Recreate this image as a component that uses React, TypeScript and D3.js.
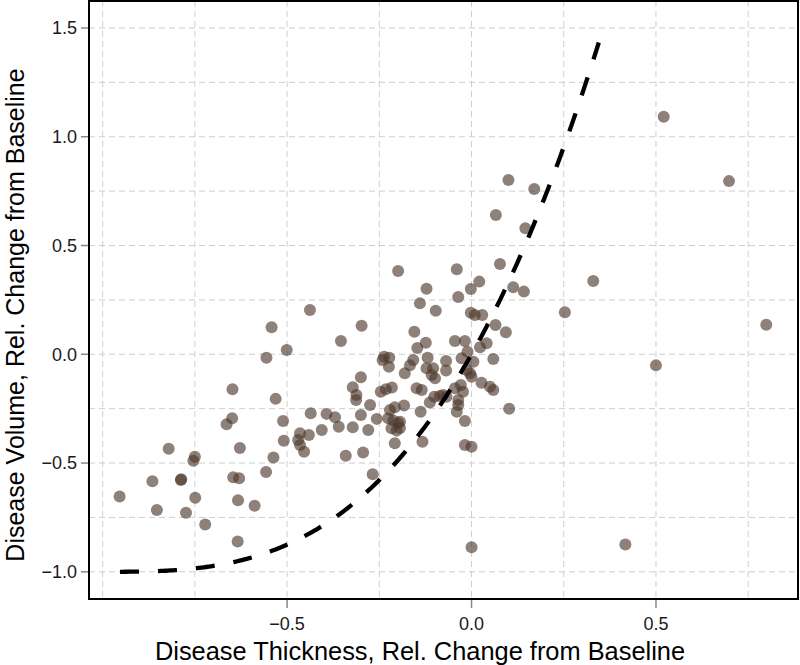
import React from "react";
import * as d3 from "d3";

// Scatter data: disease thickness vs disease volume (relative change from baseline)
const thickness: number[] = [
  -0.954, -0.865, -0.853, -0.821, -0.787, -0.788, -0.774, -0.75, -0.754, -0.749,
  -0.722, -0.664, -0.649, -0.648, -0.646, -0.63, -0.628, -0.633, -0.634, -0.588,
  -0.557, -0.556, -0.542, -0.537, -0.531, -0.511, -0.509, -0.501,
  -0.465, -0.47, -0.465, -0.454, -0.441, -0.438, -0.436, -0.406, -0.393, -0.37,
  -0.36, -0.354, -0.341, -0.322, -0.322, -0.312, -0.313, -0.3, -0.298, -0.3,
  -0.294, -0.28, -0.275, -0.257, -0.268, -0.246, -0.232, -0.216, -0.237, -0.223,
  -0.241, -0.224, -0.221, -0.208, -0.226, -0.212, -0.199, -0.217, -0.203, -0.208,
  -0.199,
  -0.194, -0.194, -0.183, -0.181, -0.167, -0.158, -0.155, -0.147, -0.14, -0.138,
  -0.133, -0.124, -0.122, -0.122, -0.119, -0.149, -0.135, -0.113, -0.104, -0.108,
  -0.099, -0.101, -0.097, -0.086, -0.077, -0.069, -0.069, -0.068, -0.045, -0.045,
  -0.04, -0.04, -0.036, -0.036, -0.036, -0.029, -0.027, -0.023, -0.018, -0.018,
  -0.018, -0.013, -0.011, -0.004, 0.0, 0.0, 0.0, -0.002, -0.002, 0.005, 0.009,
  0.021, 0.023, 0.029, 0.027, 0.041, 0.05, 0.059, 0.059, 0.065, 0.066, 0.077,
  0.093, 0.1, 0.102, 0.113, 0.142, 0.146, 0.17, 0.253, 0.33, 0.417, 0.5, 0.521,
  0.698, 0.799,
];
const volume: number[] = [
  -0.654, -0.584, -0.716, -0.434, -0.574, -0.578, -0.729, -0.471, -0.49, -0.66,
  -0.783, -0.322, -0.294, -0.161, -0.565, -0.57, -0.431, -0.671, -0.861, -0.696,
  -0.541, -0.016, 0.124, -0.475, -0.205, -0.307, -0.397, 0.02,
  -0.363, -0.394, -0.417, -0.448, -0.371, 0.204, -0.271, -0.348, -0.274, -0.29,
  -0.333, 0.061, -0.467, -0.335, -0.152, -0.187, -0.21, -0.106, 0.131, -0.279,
  -0.452, -0.348, -0.233, -0.297, -0.551, -0.172, -0.161, -0.153, -0.011, -0.016,
  -0.026, -0.057, -0.256, -0.244, -0.294, -0.305, -0.317, -0.34, -0.351, -0.409,
  0.383,
  -0.31, -0.339, -0.236, -0.087, -0.051, -0.026, 0.104, 0.029, 0.234, -0.264,
  -0.402, 0.053, 0.301, -0.064, -0.016, -0.156, -0.164, -0.222, -0.064, -0.095,
  -0.11, -0.195, 0.2, -0.192, -0.187, -0.031, -0.075, -0.195, 0.061, -0.156,
  0.391, -0.264, 0.263, -0.21, -0.233, -0.141, -0.018, -0.172, 0.061, -0.307,
  -0.417, -0.072, 0.012, -0.087, -0.103, -0.425, -0.887, 0.3, 0.191, -0.034, 0.181,
  0.334, 0.032, 0.181, -0.131, 0.051, -0.149, -0.164, -0.022, 0.135, 0.64, 0.415,
  0.101, 0.801, -0.25, 0.308, 0.288, 0.579, 0.76, 0.193, 0.337, -0.875, -0.051, 1.092,
  0.796, 0.136,
];

// Model curve: volume = (1 + thickness)^3 - 1, drawn over this thickness range
const curveRange: [number, number] = [-0.953, 0.345];

const xTicks: number[] = [-0.5, 0.0, 0.5];
const yTicks: number[] = [-1.0, -0.5, 0.0, 0.5, 1.0, 1.5];
const xGrid: number[] = [-1.0, -0.75, -0.5, -0.25, 0.0, 0.25, 0.5, 0.75];
const yGrid: number[] = [-1.0, -0.75, -0.5, -0.25, 0.0, 0.25, 0.5, 0.75, 1.0, 1.25, 1.5];

const xDomain: [number, number] = [-1.037, 0.885];
const yDomain: [number, number] = [-1.125, 1.624];

const xTitle = "Disease Thickness, Rel. Change from Baseline";
const yTitle = "Disease Volume, Rel. Change from Baseline";

export default function App() {
  const W = 800;
  const H = 665;
  const left = 89, right = 798, top = 1, bottom = 599;
  const x = d3.scaleLinear().domain(xDomain).range([left, right]);
  const y = d3.scaleLinear().domain(yDomain).range([bottom, top]);

  const pts = thickness.map((t, i) => [t, volume[i]] as [number, number]);
  const curvePts: [number, number][] = d3
    .range(0, 201)
    .map((i) => curveRange[0] + ((curveRange[1] - curveRange[0]) * i) / 200)
    .map((t) => [t, Math.pow(1 + t, 3) - 1]);
  const line = d3
    .line<[number, number]>()
    .x((d) => x(d[0]))
    .y((d) => y(d[1]));

  const font = "'Liberation Sans', Arial, Helvetica, sans-serif";
  const fmt = (v: number) => d3.format(".1f")(v).replace("-", "\u2212");

  return (
    <svg
      width={W}
      height={H}
      style={{ position: "absolute", left: 0, top: 0, background: "#fff" }}
      fontFamily={font}
    >
      <rect x={0} y={0} width={W} height={H} fill="#fff" />
      {/* grid */}
      <g stroke="#cfcfcf" strokeWidth={1} strokeDasharray="6,4">
        {xGrid.map((v) => (
          <line key={"gx" + v} x1={x(v)} x2={x(v)} y1={top} y2={bottom} />
        ))}
        {yGrid.map((v) => (
          <line key={"gy" + v} x1={left} x2={right} y1={y(v)} y2={y(v)} />
        ))}
      </g>
      {/* points */}
      <g fill="rgb(78,58,46)" fillOpacity={0.64}>
        {pts.map((p, i) => (
          <circle key={i} cx={x(p[0])} cy={y(p[1])} r={6} />
        ))}
      </g>
      {/* model curve */}
      <path
        d={line(curvePts) || ""}
        fill="none"
        stroke="#000"
        strokeWidth={4.3}
        strokeDasharray="19,19"
      />
      {/* frame */}
      <rect
        x={left}
        y={top}
        width={right - left}
        height={bottom - top}
        fill="none"
        stroke="#000"
        strokeWidth={2}
      />
      {/* x ticks */}
      <g>
        {xTicks.map((v) => (
          <g key={"xt" + v}>
            <line x1={x(v)} x2={x(v)} y1={bottom + 1} y2={bottom + 9} stroke="#888" strokeWidth={1.5} />
            <text x={x(v)} y={bottom + 31} textAnchor="middle" fontSize={18} fill="#1a1a1a">
              {fmt(v)}
            </text>
          </g>
        ))}
      </g>
      {/* y ticks */}
      <g>
        {yTicks.map((v) => (
          <g key={"yt" + v}>
            <line x1={left - 8} x2={left - 1} y1={y(v)} y2={y(v)} stroke="#888" strokeWidth={1.5} />
            <text
              x={left - 12}
              y={y(v)}
              dy="0.35em"
              textAnchor="end"
              fontSize={18}
              fill="#1a1a1a"
            >
              {fmt(v)}
            </text>
          </g>
        ))}
      </g>
      {/* axis titles */}
      <text x={420} y={660} textAnchor="middle" fontSize={25.4} fill="#000">
        {xTitle}
      </text>
      <text
        transform={`translate(24,315) rotate(-90)`}
        textAnchor="middle"
        fontSize={25}
        fill="#000"
      >
        {yTitle}
      </text>
    </svg>
  );
}
